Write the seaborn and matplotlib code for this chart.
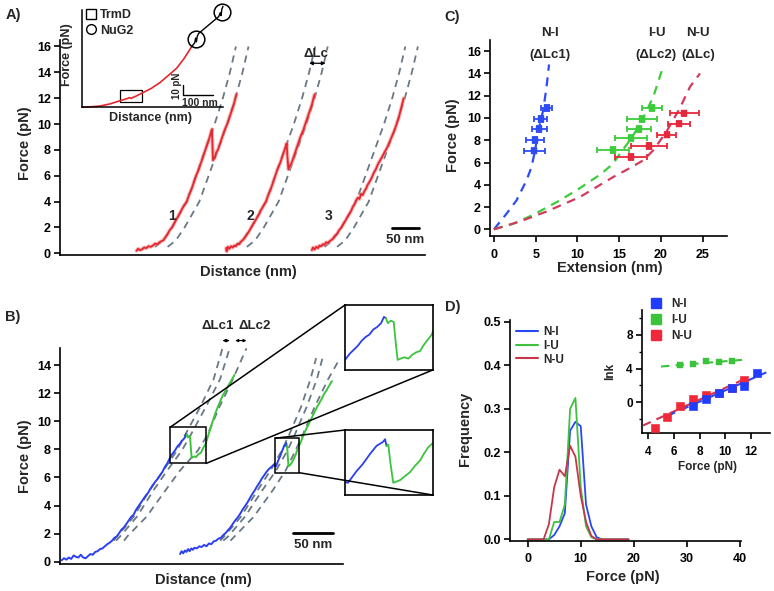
import numpy as np
import pandas as pd
import matplotlib
matplotlib.use("Agg")
import matplotlib.pyplot as plt
import seaborn as sns
from matplotlib.patches import Rectangle, ConnectionPatch
from matplotlib.lines import Line2D

# ======================= DATA =======================
# ---- Panel A: force (pN) vs distance (nm), three TrmD unfolding traces ----
A_dash_F = [0.5, 1, 2, 4, 6, 8, 10, 12, 14, 16]
A1_fold = [174, 189, 205, 232, 249, 266, 283, 298, 311, 322]
A1_unf = [197, 212, 228, 255, 272, 289, 306, 321, 334, 345]
A2_fold = [319, 334, 350, 377, 394, 411, 428, 443, 456, 467]
A2_unf = [342, 357, 373, 400, 417, 434, 451, 466, 479, 490]
A3_fold = [484, 499, 515, 542, 559, 576, 593, 608, 621, 632]
A3_unf = [507, 522, 538, 565, 582, 599, 616, 631, 644, 655]

A1_trace = [(140, 0.2), (143, 0.35), (146, 0.25), (150, 0.3), (154, 0.45), (158, 0.4), (162, 0.55),
            (166, 0.5), (170, 0.6), (174, 0.75), (178, 0.7), (182, 0.85), (186, 0.95), (189, 1.0),
            (193, 1.25), (197, 1.5), (201, 1.8), (205, 2.0), (210, 2.4), (214, 2.7), (218, 3.0),
            (223, 3.4), (227, 3.7), (232, 4.0), (236, 4.5), (241, 5.0), (245, 5.5), (249, 6.0),
            (254, 6.5), (258, 7.0), (262, 7.5), (266, 8.0), (270, 8.5), (274, 9.0), (276, 9.3),
            (278, 9.6), (279, 8.4), (280, 7.2), (283, 7.4), (286, 7.8), (289, 8.0), (293, 8.5),
            (297, 9.0), (301, 9.5), (306, 10.0), (310, 10.5), (314, 11.0), (318, 11.5), (321, 12.0),
            (323, 12.3)]
A2_trace = [(304, 0.4), (305, 0.15), (307, 0.5), (310, 0.35), (313, 0.55), (316, 0.45), (319, 0.6),
            (322, 0.55), (325, 0.75), (328, 0.7), (331, 0.9), (334, 1.0), (338, 1.2), (342, 1.45),
            (346, 1.7), (350, 2.0), (354, 2.3), (357, 2.5), (361, 2.8), (364, 3.0), (367, 3.3),
            (370, 3.5), (374, 3.8), (377, 4.0), (381, 4.5), (386, 5.0), (390, 5.5), (394, 6.0),
            (398, 6.5), (403, 7.0), (407, 7.5), (411, 8.0), (414, 8.4), (415, 8.5), (416, 7.6),
            (418, 6.5), (421, 6.8), (424, 7.0), (428, 7.5), (432, 8.0), (436, 8.5), (440, 9.0),
            (445, 9.5), (449, 10.0), (453, 10.5), (457, 11.0), (461, 11.5), (464, 12.0), (466, 12.3)]
A3_trace = [(461, 0.25), (463, 0.45), (466, 0.3), (469, 0.5), (472, 0.4), (475, 0.6), (478, 0.55),
            (481, 0.7), (484, 0.65), (487, 0.85), (490, 0.8), (494, 0.95), (499, 1.1), (503, 1.35),
            (507, 1.5), (511, 1.8), (515, 2.0), (519, 2.3), (522, 2.5), (526, 2.8), (529, 3.0),
            (533, 3.3), (536, 3.6), (539, 3.8), (542, 4.1), (545, 4.3), (548, 4.2), (551, 4.6),
            (554, 4.5), (557, 4.8), (560, 5.0), (563, 5.3), (566, 5.5), (570, 5.8), (574, 6.2),
            (578, 6.5), (582, 6.9), (586, 7.2), (590, 7.5), (595, 7.9), (599, 8.2), (603, 8.6),
            (607, 9.0), (612, 9.5), (616, 10.0), (620, 10.5), (623, 11.0), (626, 11.5), (629, 12.0)]
A_trace_labels = ["1", "2", "3"]
A_label_x = [205, 349, 491]

# inset of panel A: TrmD + NuG2 construct (distance nm, force pN)
AI_x = [3, 35, 65, 100, 135, 160, 170, 175, 180, 190, 212, 245, 277, 305, 336, 362, 389]
AI_F = [0, 0.3, 0.7, 1.8, 3.5, 4.6, 5.2, 4.7, 5.2, 5.8, 7.5, 10.0, 13.2, 16.8, 20.9, 26.0, 32.4]
AI_link_x = [389, 400, 403, 406, 409, 414, 485, 490, 493, 496, 500]
AI_link_F = [32.4, 34.5, 37.0, 35.0, 38.0, 39.5, 48.5, 50.5, 49.0, 52.5, 54.0]
AI_nug2_x = [406, 495]
AI_nug2_F = [36.4, 51.1]

# ---- Panel B: two traces with intermediate (blue = N, green = after N-I) ----
B_dash_F = [1.5, 1.8, 3.2, 5.1, 6.5, 7.9, 9.0, 11, 13, 15.2]
B1_a = [67, 71, 92, 112, 129, 146, 156, 175, 192, 203]
B1_b = [70, 75, 96, 117, 134, 152, 163, 182, 200, 212]
B1_c = [80, 84, 108, 132, 150, 172, 184, 199, 216, 233]
B_dash2_F = [1.5, 1.8, 3.2, 5.1, 6.5, 7.9, 9.0, 11, 13, 14.5]
B2_a = [200, 205, 226, 247, 263, 277, 286, 301, 313, 320]
B2_b = [204, 210, 231, 253, 270, 284, 293, 308, 321, 328]
B2_c = [213, 218, 242, 266, 282, 294, 303, 318, 335, 350]

B1_blue = [(2, 0.1), (5, 0.25), (8, 0.15), (11, 0.3), (14, 0.2), (17, 0.45), (20, 0.35), (23, 0.3),
           (26, 0.5), (29, 0.3), (32, 0.25), (35, 0.4), (38, 0.55), (41, 0.5), (44, 0.7), (47, 0.75),
           (50, 0.9), (53, 0.95), (56, 1.1), (59, 1.25), (62, 1.35), (65, 1.5), (68, 1.7), (71, 1.8),
           (74, 2.05), (77, 2.3), (80, 2.45), (83, 2.7), (86, 2.95), (89, 3.2), (92, 3.35), (95, 3.7),
           (98, 3.95), (101, 4.2), (104, 4.45), (107, 4.7), (110, 4.9), (113, 5.2), (116, 5.45),
           (119, 5.7), (122, 5.9), (125, 6.15), (128, 6.4), (131, 6.75), (134, 7.0), (137, 7.35),
           (140, 7.65), (142, 7.8), (144, 7.95), (146, 8.15), (148, 8.3), (150, 8.4), (152, 8.6),
           (154, 8.7), (156, 8.85), (157.5, 9.1), (158.5, 9.05)]
B1_green = [(158.5, 9.05), (159.5, 8.85), (161, 8.95), (162.5, 8.9), (163.5, 8.1), (164.5, 7.4),
            (166, 7.45), (168, 7.5), (170, 7.45), (172, 7.6), (174, 7.7), (176, 7.75), (178, 8.0),
            (180, 8.2), (182, 8.4), (185, 8.95), (188, 9.5), (191, 10.05), (194, 10.55),
            (197, 11.0), (200, 11.4), (203, 11.8), (206, 12.1), (209, 12.4), (212, 12.7),
            (215, 13.0), (218, 13.3)]
B2_blue = [(150, 0.55), (152, 0.75), (154, 0.6), (156, 0.8), (158, 0.7), (160, 0.9), (162, 0.75),
           (164, 0.95), (166, 0.85), (168, 1.0), (171, 0.95), (174, 1.1), (177, 1.05), (180, 1.2),
           (183, 1.1), (186, 1.3), (189, 1.25), (192, 1.45), (195, 1.5), (198, 1.65), (201, 1.7),
           (204, 1.9), (207, 2.05), (210, 2.25), (213, 2.45), (216, 2.7), (219, 2.95), (222, 3.15),
           (225, 3.4), (228, 3.7), (231, 3.95), (234, 4.2), (237, 4.5), (240, 4.8), (243, 5.05),
           (246, 5.35), (249, 5.6), (252, 5.9), (255, 6.15), (258, 6.4), (261, 6.6), (264, 6.75),
           (267, 6.9), (270, 6.8), (271, 6.95), (273, 7.25), (275, 7.5), (277.6, 7.9), (279.8, 8.2),
           (282, 8.35), (282.7, 8.45), (283.2, 8.2)]
B2_green = [(283.2, 8.2), (283.8, 8.25), (284.6, 7.5), (285.5, 6.8), (287.8, 6.9), (289.5, 7.05),
            (291.2, 7.2), (293, 7.45), (294.7, 7.65), (296, 7.9), (297.5, 8.15), (300, 8.4),
            (303, 8.85), (306, 9.25), (309, 9.6), (312, 9.95), (315, 10.3), (318, 10.65),
            (321, 11.0), (324, 11.3), (327, 11.6), (330, 11.95), (333, 12.2), (336, 12.5),
            (339, 12.8), (340, 12.85)]
B_box1 = (137.5, 182.5, 7.0, 9.57)   # zoomed region x0, x1, F0, F1
B_box2 = (269.0, 299.0, 6.34, 8.8)

# ---- Panel C: extension vs force with WLC fits ----
C_NI_x = [4.8, 4.9, 5.44, 5.6, 6.3]
C_NI_F = [7.07, 8.0, 9.0, 9.9, 10.9]
C_NI_xerr = [1.26, 1.05, 0.86, 0.8, 0.66]
C_IU_x = [14.3, 16.4, 17.4, 17.8, 18.9]
C_IU_F = [7.1, 8.2, 9.0, 9.9, 10.9]
C_IU_xerr = [1.9, 1.9, 1.4, 1.8, 1.2]
C_NU_x = [16.4, 18.6, 20.7, 22.2, 22.8]
C_NU_F = [6.5, 7.5, 8.5, 9.5, 10.4]
C_NU_xerr = [1.9, 2.2, 1.1, 1.3, 1.74]
C_yerr = [0.25, 0.25, 0.25, 0.25, 0.25]
C_fitNI_x = [0, 1.5, 2.7, 3.9, 4.5, 4.9, 5.3, 5.9, 6.3, 6.6]
C_fitNI_F = [0, 1.4, 2.6, 4.4, 5.6, 7.0, 8.8, 10.7, 12.8, 14.8]
C_fitIU_x = [0, 2.3, 4.7, 7.9, 10.3, 12.7, 14.3, 15.1, 16.3, 17.5, 19.1, 20.1]
C_fitIU_F = [0, 0.5, 1.3, 2.6, 3.7, 4.9, 5.9, 6.8, 8.0, 9.4, 11.9, 14.2]
C_fitNU_x = [0, 3.1, 6.3, 10.3, 14.3, 16.3, 17.9, 19.1, 20.7, 22.3, 23.5, 24.7]
C_fitNU_F = [0, 0.7, 1.6, 2.9, 4.7, 5.5, 6.2, 7.1, 8.8, 10.9, 12.8, 14.0]

# ---- Panel D: unfolding-force histograms + ln k vs force ----
D_force = [0, 1, 2, 3, 4, 5, 6, 7, 8, 9, 10, 11, 12, 13, 14, 15, 16, 17, 18, 19]
D_NI = [0, 0, 0, 0, 0, 0.01, 0.03, 0.06, 0.25, 0.27, 0.26, 0.08, 0.03, 0.005, 0, 0, 0, 0, 0, 0]
D_IU = [0, 0, 0, 0, 0, 0.04, 0.04, 0.08, 0.30, 0.325, 0.12, 0.03, 0.005, 0, 0, 0, 0, 0, 0, 0]
D_NU = [0, 0, 0, 0, 0.035, 0.12, 0.16, 0.145, 0.215, 0.19, 0.10, 0.04, 0.008, 0, 0, 0, 0, 0, 0, 0]
DI_NI_F = [7.5, 8.5, 9.5, 10.5, 11.5, 12.5]
DI_NI_lnk = [-0.45, 0.45, 1.15, 1.75, 1.9, 3.5]
DI_IU_F = [6.5, 7.5, 8.5, 9.5, 10.5]
DI_IU_lnk = [4.4, 4.55, 4.85, 4.75, 4.85]
DI_NU_F = [4.5, 5.5, 6.5, 7.5, 8.5, 9.5, 10.5, 11.5]
DI_NU_lnk = [-3.0, -1.78, -0.43, 0.4, 0.87, 1.15, 1.66, 2.65]
DI_fitNI_F = [5.5, 13.2]
DI_fitNI_lnk = [-1.6, 3.55]
DI_fitIU_F = [5.0, 11.8]
DI_fitIU_lnk = [4.25, 5.1]
DI_fitNU_F = [3.6, 11.7]
DI_fitNU_lnk = [-2.75, 2.9]
series_names = ["N-I", "I-U", "N-U"]

# ======================= STYLE =======================
sns.set_style("ticks")
plt.rcParams["font.family"] = ["Liberation Sans", "DejaVu Sans"]
plt.rcParams["font.weight"] = "bold"
plt.rcParams["axes.edgecolor"] = "black"
plt.rcParams["xtick.color"] = "black"
plt.rcParams["ytick.color"] = "black"

W, H = 774, 591
fig = plt.figure(figsize=(W / 100, H / 100), dpi=100)


def rect(x0, y0, x1, y1):
    return [x0 / W, 1 - y1 / H, (x1 - x0) / W, (y1 - y0) / H]


def ftext(x, y, s, size=10.5, **kw):
    kw.setdefault("ha", "center")
    kw.setdefault("va", "center")
    fig.text(x / W, 1 - y / H, s, fontsize=size, fontweight="bold", **kw)


def line(ax, xs, ys, color, lw=1.3, ls="-", z=2, alpha=1.0):
    sns.lineplot(x=list(xs), y=list(ys), ax=ax, color=color, lw=lw, linestyle=ls,
                 sort=False, estimator=None, legend=False, zorder=z, alpha=alpha)


def style(ax, size=9):
    sns.despine(ax=ax)
    for s in ax.spines.values():
        s.set_linewidth(1.2)
    ax.tick_params(direction="out", length=4.5, width=1.2, labelsize=size)
    ax.tick_params(axis="x", pad=4.5)
    ax.tick_params(axis="y", pad=2)
    ax.set_xlabel("")
    ax.set_ylabel("")


DASH = (0, (4, 3))
GRAY = "#6a7886"
RED = "#e6262e"
BLUE = "#2a40f0"
GREEN = "#3cc43c"

# ======================= PANEL A =======================
axA = fig.add_axes(rect(60, 40, 425, 255))
for xs in (A1_fold, A1_unf, A2_fold, A2_unf, A3_fold, A3_unf):
    line(axA, xs, A_dash_F, GRAY, lw=1.3, ls=DASH, z=1)
for tr in (A1_trace, A2_trace, A3_trace):
    xs, ys = zip(*tr)
    line(axA, xs, ys, "#f28a8a", lw=2.8, z=2, alpha=0.6)
    line(axA, xs, ys, RED, lw=1.3, z=3)
axA.set_xlim(0, 668)
axA.set_ylim(-0.13, 16.5)
axA.set_yticks(range(0, 17, 2))
axA.set_xticks([])
style(axA)
for lab, xx in zip(A_trace_labels, A_label_x):
    axA.text(xx, 2.85, lab, fontsize=10, fontweight="bold", ha="center", va="center")
axA.plot([607.5, 657.5], [1.95, 1.95], color="black", lw=2, clip_on=False)
axA.text(632, 1.05, "50 nm", fontsize=9.5, ha="center", va="center", clip_on=False)
axA.annotate("", xy=(486, 14.7), xytext=(456, 14.7),
             arrowprops=dict(arrowstyle="<|-|>", lw=0.9, color="black", mutation_scale=5,
                             shrinkA=0, shrinkB=0))
axA.text(469, 15.45, "ΔLc", fontsize=9.5, ha="center", va="center")
ftext(248, 272, "Distance (nm)")
ftext(25, 143, "Force (pN)", rotation=90)
ftext(13, 15, "A)", size=10.5)

# inset of A
axAi = fig.add_axes(rect(81.7, 10, 223, 107.3))
axAi.patch.set_alpha(0)
line(axAi, AI_x, AI_F, RED, lw=1.2)
line(axAi, AI_link_x, AI_link_F, "black", lw=1.0)
axAi.plot(AI_nug2_x, AI_nug2_F, ls="", marker="o", ms=12, mfc="none", mec="black", mew=1.1,
          clip_on=False)
axAi.add_patch(Rectangle((135, 3.0), 77, 6.25, fill=False, lw=0.9, ec="black"))
axAi.set_xlim(0, 500)
axAi.set_ylim(0, 52)
axAi.set_xticks([])
axAi.set_yticks([])
sns.despine(ax=axAi)
for s in axAi.spines.values():
    s.set_linewidth(1.1)
for l in axAi.get_lines():
    l.set_clip_on(False)
axAi.plot([360, 360, 463], [11.9, 6.6, 6.6], color="black", lw=1.0)
axAi.text(338, 11.3, "10 pN", rotation=90, fontsize=7, ha="center", va="center")
axAi.text(419, 2.4, "100 nm", fontsize=7.5, ha="center", va="center")
hA = [Line2D([], [], ls="", marker="s", ms=7, mfc="none", mec="black", mew=1.0),
      Line2D([], [], ls="", marker="o", ms=7, mfc="none", mec="black", mew=1.0)]
axAi.legend(hA, ["TrmD", "NuG2"], loc="upper left", bbox_to_anchor=(86 / W, 1 - 9 / H),
            bbox_transform=fig.transFigure, frameon=False, fontsize=9, handlelength=0.8,
            handletextpad=0.35, labelspacing=0.3, borderpad=0, borderaxespad=0)
ftext(150.7, 118.3, "Distance (nm)", size=9)
ftext(67.3, 55, "Force (pN)", size=9, rotation=90)

# ======================= PANEL B =======================
axB = fig.add_axes(rect(60, 348.3, 343.3, 564))
for xs in (B1_a, B1_b, B1_c):
    line(axB, xs, B_dash_F, GRAY, lw=1.3, ls=DASH, z=1)
for xs in (B2_a, B2_b, B2_c):
    line(axB, xs, B_dash2_F, GRAY, lw=1.3, ls=DASH, z=1)
for tr, col in ((B1_blue, BLUE), (B1_green, GREEN), (B2_blue, BLUE), (B2_green, GREEN)):
    xs, ys = zip(*tr)
    line(axB, xs, ys, col, lw=1.4)
axB.set_xlim(0, 354)
axB.set_ylim(-0.16, 15.2)
axB.set_yticks(range(0, 15, 2))
axB.set_xticks([])
style(axB)
for bx in (B_box1, B_box2):
    axB.add_patch(Rectangle((bx[0], bx[2]), bx[1] - bx[0], bx[3] - bx[2], fill=False,
                            lw=1.1, ec="black", zorder=5))
axB.plot([291.7, 341.7], [2.06, 2.06], color="black", lw=2)
axB.text(316.7, 1.2, "50 nm", fontsize=9.5, ha="center", va="center")
for x0, x1 in ((203, 212), (219, 233)):
    axB.annotate("", xy=(x1, 15.75), xytext=(x0, 15.75), annotation_clip=False,
                 arrowprops=dict(arrowstyle="<|-|>", lw=0.8, color="black", mutation_scale=4,
                                 shrinkA=0, shrinkB=0))
axB.text(197, 16.8, "ΔLc1", fontsize=9.5, ha="center", va="center", clip_on=False)
axB.text(243, 16.8, "ΔLc2", fontsize=9.5, ha="center", va="center", clip_on=False)
ftext(203, 580, "Distance (nm)")
ftext(25, 456, "Force (pN)", rotation=90)
ftext(13, 317, "B)", size=10.5)

for pos, bx in ((rect(345, 305, 432.7, 370), B_box1), (rect(345, 430, 432.7, 495), B_box2)):
    axi = fig.add_axes(pos)
    for tr, col in ((B1_blue, BLUE), (B1_green, GREEN), (B2_blue, BLUE), (B2_green, GREEN)):
        xs, ys = zip(*tr)
        line(axi, xs, ys, col, lw=1.3)
    axi.set_xlim(bx[0], bx[1])
    axi.set_ylim(bx[2], bx[3])
    axi.set_xticks([])
    axi.set_yticks([])
    axi.set_xlabel("")
    axi.set_ylabel("")
    for s in axi.spines.values():
        s.set_linewidth(1.2)
        s.set_color("black")
    for xyA, xyB in (((bx[0], bx[3]), (0, 1)), ((bx[1], bx[2]), (1, 0))):
        cp = ConnectionPatch(xyA=xyA, coordsA=axB.transData, xyB=xyB, coordsB=axi.transAxes,
                             color="black", lw=1.1)
        fig.add_artist(cp)

# ======================= PANEL C =======================
axC = fig.add_axes(rect(490, 40, 726.7, 236))
C_BLUE, C_GREEN, C_RED, C_RED2 = "#2d4cf5", "#3ccc3c", "#e5283c", "#d43a5c"
line(axC, C_fitNI_x, C_fitNI_F, C_BLUE, lw=1.6, ls=DASH, z=1)
line(axC, C_fitIU_x, C_fitIU_F, C_GREEN, lw=1.6, ls=DASH, z=1)
line(axC, C_fitNU_x, C_fitNU_F, C_RED2, lw=1.6, ls=DASH, z=1)
for xs, ys, xe, col in ((C_NI_x, C_NI_F, C_NI_xerr, C_BLUE),
                        (C_IU_x, C_IU_F, C_IU_xerr, C_GREEN),
                        (C_NU_x, C_NU_F, C_NU_xerr, C_RED)):
    axC.errorbar(xs, ys, xerr=xe, yerr=C_yerr, fmt="none", ecolor=col, elinewidth=1.3,
                 capsize=2.5, capthick=1.3, zorder=3)
    sns.scatterplot(x=xs, y=ys, ax=axC, color=col, marker="s", s=16, edgecolor=col,
                    legend=False, zorder=4)
axC.set_xlim(-0.48, 27.9)
axC.set_ylim(-0.6, 17.0)
axC.set_xticks(range(0, 26, 5))
axC.set_yticks(range(0, 17, 2))
style(axC)
ftext(550, 33.3, "N-I", size=9.5)
ftext(550, 55, "(ΔLc1)", size=9.5)
ftext(656.7, 33.3, "I-U", size=9.5)
ftext(656, 55, "(ΔLc2)", size=9.5)
ftext(698.3, 33.3, "N-U", size=9.5)
ftext(698.3, 55, "(ΔLc)", size=9.5)
ftext(610, 268.3, "Extension (nm)")
ftext(453.3, 135, "Force (pN)", rotation=90)
ftext(452, 17, "C)", size=10.5)

# ======================= PANEL D =======================
axD = fig.add_axes(rect(510, 320, 741, 540.7))
D_BLUE, D_GREEN, D_RED = "#2a48f2", "#3ec23e", "#c8364a"
line(axD, D_force, D_NI, D_BLUE, lw=1.3)
line(axD, D_force, D_IU, D_GREEN, lw=1.3)
line(axD, D_force, D_NU, D_RED, lw=1.3)
axD.set_xlim(-3.33, 40.2)
axD.set_ylim(-0.003, 0.504)
axD.set_xticks(range(0, 41, 10))
axD.set_yticks([0, 0.1, 0.2, 0.3, 0.4, 0.5])
axD.set_yticklabels(["0.0", "0.1", "0.2", "0.3", "0.4", "0.5"])
style(axD)
hD = [Line2D([], [], color=c, lw=1.5) for c in (D_BLUE, D_GREEN, D_RED)]
axD.legend(hD, series_names, loc="upper left", bbox_to_anchor=(516 / W, 1 - 326 / H),
           bbox_transform=fig.transFigure, frameon=False, fontsize=8.5, handlelength=1.9,
           handletextpad=0.4, labelspacing=0.15, borderpad=0, borderaxespad=0)
ftext(623.3, 577.3, "Force (pN)")
ftext(465, 428.7, "Frequency", rotation=90)
ftext(453, 307, "D)", size=10.5)

# inset of D
axDi = fig.add_axes(rect(641.7, 310, 770, 433.3))
axDi.patch.set_alpha(0)
I_BLUE, I_GREEN, I_RED = "#1f3cff", "#3bc43b", "#f0283a"
line(axDi, DI_fitIU_F, DI_fitIU_lnk, I_GREEN, lw=1.5, ls=DASH)
line(axDi, DI_fitNU_F, DI_fitNU_lnk, "#d8304e", lw=1.5, ls=DASH)
line(axDi, DI_fitNI_F, DI_fitNI_lnk, "#2a48f2", lw=1.5, ls=DASH)
sns.scatterplot(x=DI_IU_F, y=DI_IU_lnk, ax=axDi, color=I_GREEN, marker="s", s=14, edgecolor=I_GREEN,
                legend=False, zorder=4)
sns.scatterplot(x=DI_NU_F, y=DI_NU_lnk, ax=axDi, color=I_RED, marker="s", s=30, edgecolor=I_RED,
                legend=False, zorder=4)
sns.scatterplot(x=DI_NI_F, y=DI_NI_lnk, ax=axDi, color=I_BLUE, marker="s", s=30, edgecolor=I_BLUE,
                legend=False, zorder=5)
axDi.set_xlim(3.49, 13.49)
axDi.set_ylim(-3.68, 10.96)
axDi.set_xticks(range(4, 13, 2))
axDi.set_yticks([0, 4, 8])
axDi.set_yticks([-2, 2, 6, 10], minor=True)
style(axDi, size=8.5)
axDi.tick_params(which="minor", direction="out", length=2.5, width=1.0)
hDi = [Line2D([], [], ls="", marker="s", ms=6.5, color=c) for c in (I_BLUE, I_GREEN, I_RED)]
axDi.legend(hDi, series_names, loc="upper left", bbox_to_anchor=(651 / W, 1 - 298 / H),
            bbox_transform=fig.transFigure, frameon=False, fontsize=8.5, handlelength=0.8,
            handletextpad=0.9, labelspacing=0.35, borderpad=0, borderaxespad=0)
ftext(707.3, 466.7, "Force (pN)", size=8.5)
ftext(610, 371.7, "lnk", size=8.5, rotation=90)

fig.savefig("out.png", dpi=100)
